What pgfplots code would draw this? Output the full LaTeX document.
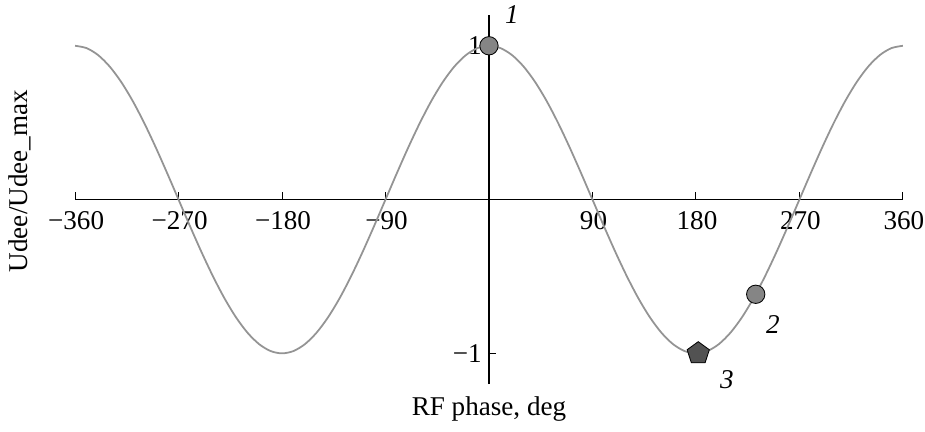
\documentclass[border=0pt]{standalone}
\usepackage{fontspec}
\setmainfont{Liberation Serif}
\usepackage{pgfplots}
\pgfplotsset{compat=1.18}

% normalised DEE voltage over one RF period on each side of zero
\pgfplotstableread{
phase  u
-360  1.0000
-350  0.9848
-340  0.9397
-330  0.8660
-320  0.7660
-310  0.6428
-300  0.5000
-290  0.3420
-280  0.1736
-270  0.0000
-260 -0.1736
-250 -0.3420
-240 -0.5000
-230 -0.6428
-220 -0.7660
-210 -0.8660
-200 -0.9397
-190 -0.9848
-180 -1.0000
-170 -0.9848
-160 -0.9397
-150 -0.8660
-140 -0.7660
-130 -0.6428
-120 -0.5000
-110 -0.3420
-100 -0.1736
 -90  0.0000
 -80  0.1736
 -70  0.3420
 -60  0.5000
 -50  0.6428
 -40  0.7660
 -30  0.8660
 -20  0.9397
 -10  0.9848
   0  1.0000
  10  0.9848
  20  0.9397
  30  0.8660
  40  0.7660
  50  0.6428
  60  0.5000
  70  0.3420
  80  0.1736
  90  0.0000
 100 -0.1736
 110 -0.3420
 120 -0.5000
 130 -0.6428
 140 -0.7660
 150 -0.8660
 160 -0.9397
 170 -0.9848
 180 -1.0000
 190 -0.9848
 200 -0.9397
 210 -0.8660
 220 -0.7660
 230 -0.6428
 240 -0.5000
 250 -0.3420
 260 -0.1736
 270  0.0000
 280  0.1736
 290  0.3420
 300  0.5000
 310  0.6428
 320  0.7660
 330  0.8660
 340  0.9397
 350  0.9848
 360  1.0000
}\curve

\begin{document}
\begin{tikzpicture}
% fixed page frame around the 397pt x 177pt plot box
\useasboundingbox (-36pt,-22.6pt) rectangle (407.6pt,184.2pt);
\begin{axis}[
  at={(0,0)}, anchor=south west,
  scale only axis,
  width=397pt, height=177pt,
  axis lines=middle,
  axis line style={line width=0.6pt, -},
  xmin=-360, xmax=360,
  ymin=-1.2, ymax=1.2,
  xtick={-360,-270,-180,-90,0,90,180,270,360},
  xticklabels={−360,−270,−180,−90,0,90,180,270,360},
  ytick={-1,1},
  yticklabels={−1,1},
  tick align=inside,
  major tick length=3.4pt,
  tick style={line width=0.5pt, black},
  tick label style={font=\fontsize{13}{15}\selectfont},
  xticklabel style={yshift=-2pt, xshift=0.5pt},
  xlabel={RF phase, deg},
  ylabel={Udee/Udee\_max},
  label style={font=\fontsize{13}{15}\selectfont},
  xlabel style={at={(rel axis cs:0.5,-0.068)}, anchor=center},
  ylabel style={at={(rel axis cs:-0.0665,0.55)}, anchor=center, rotate=90},
  clip=false,
]
\addplot[smooth, color=black!42, line width=0.85pt] table[x=phase, y=u] {\curve};
% working points on the RF wave
\addplot[only marks, mark=*, mark size=4.4pt,
  mark options={fill=black!48, draw=black, line width=0.4pt}]
  coordinates {(0,1) (232,-0.616)};
\addplot[only marks, mark=pentagon*, mark size=5.6pt,
  mark options={fill=black!68, draw=black, line width=0.4pt}]
  coordinates {(182,-1)};
\node[font=\itshape\fontsize{13}{15}\selectfont] at (axis cs:20,1.2) {1};
\node[font=\itshape\fontsize{13}{15}\selectfont] at (axis cs:247,-0.81) {2};
\node[font=\itshape\fontsize{13}{15}\selectfont] at (axis cs:207,-1.17) {3};
\end{axis}
\end{tikzpicture}
\end{document}
